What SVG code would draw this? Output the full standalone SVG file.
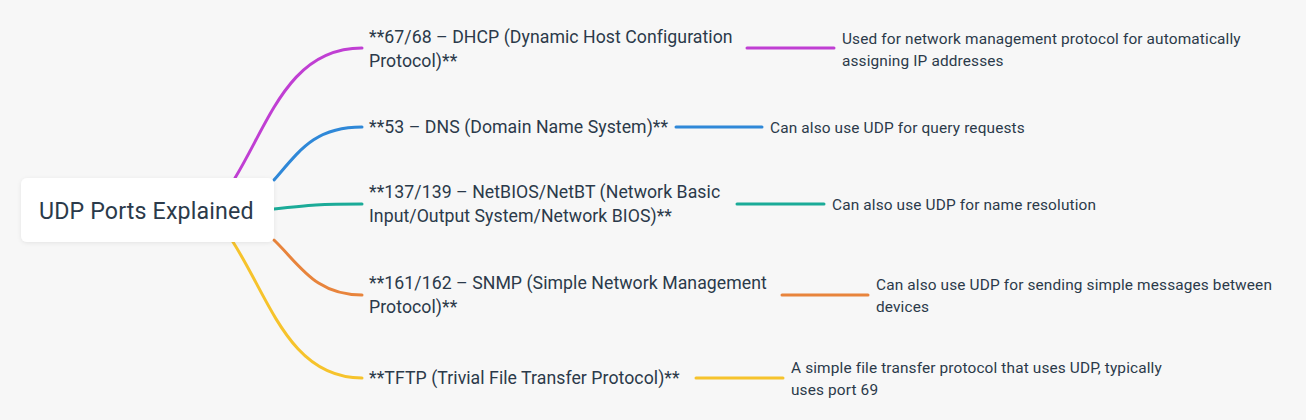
<svg xmlns="http://www.w3.org/2000/svg" width="1306" height="420" viewBox="0 0 1306 420">
<defs>
<filter id="sh" x="-10%" y="-20%" width="120%" height="150%">
<feDropShadow dx="0" dy="1" stdDeviation="2" flood-color="#000" flood-opacity="0.08"/>
</filter>
</defs>
<style>
text{font-family:Roboto,"Noto Sans",sans-serif;fill:#2b3a4a}
.l1{font-size:17.7px;letter-spacing:0.05px}
.l2{font-size:15.4px;letter-spacing:0.14px}
.root{font-size:23.2px;letter-spacing:0.15px}
.c{fill:none;stroke-width:3;stroke-linecap:round}
</style>
<rect width="1306" height="420" fill="#f7f7f7"/>
<g id="connectors">
<path class="c" stroke="#c03fd3" d="M235,178 C270,120 290,48 362,48"/>
<path class="c" stroke="#2f88d8" d="M274,180 C300,150 315,127 362,127"/>
<path class="c" stroke="#1bab98" d="M274,209 C310,205 320,204 362,204"/>
<path class="c" stroke="#e8843c" d="M274,240 C300,265 315,295 362,295"/>
<path class="c" stroke="#f6c32c" d="M233,242 C270,300 290,378 362,378"/>
<path class="c" stroke="#c03fd3" d="M747,48 H834"/>
<path class="c" stroke="#2f88d8" d="M676,127 H762"/>
<path class="c" stroke="#1bab98" d="M737,204 H824"/>
<path class="c" stroke="#e8843c" d="M782,295 H868"/>
<path class="c" stroke="#f6c32c" d="M696,378 H783"/>
</g>
<g id="root">
<rect x="21" y="178" width="253" height="64" rx="6" fill="#fff" filter="url(#sh)"/>
<text class="root" x="39" y="219">UDP Ports Explained</text>
</g>
<g id="dhcp"><text class="l1" x="369" y="43">**67/68 – DHCP (Dynamic Host Configuration</text><text class="l1" x="369" y="67">Protocol)**</text></g>
<g id="dns"><text class="l1" x="369" y="133">**53 – DNS (Domain Name System)**</text></g>
<g id="netbios"><text class="l1" x="369" y="198">**137/139 – NetBIOS/NetBT (Network Basic</text><text class="l1" x="369" y="222">Input/Output System/Network BIOS)**</text></g>
<g id="snmp"><text class="l1" x="369" y="289">**161/162 – SNMP (Simple Network Management</text><text class="l1" x="369" y="313">Protocol)**</text></g>
<g id="tftp"><text class="l1" x="369" y="384">**TFTP (Trivial File Transfer Protocol)**</text></g>
<g id="dhcp-desc"><text class="l2" x="842" y="44">Used for network management protocol for automatically</text><text class="l2" x="842" y="66">assigning IP addresses</text></g>
<g id="dns-desc"><text class="l2" x="770" y="133">Can also use UDP for query requests</text></g>
<g id="netbios-desc"><text class="l2" x="832" y="210">Can also use UDP for name resolution</text></g>
<g id="snmp-desc"><text class="l2" x="876" y="290">Can also use UDP for sending simple messages between</text><text class="l2" x="876" y="312">devices</text></g>
<g id="tftp-desc"><text class="l2" x="791" y="373">A simple file transfer protocol that uses UDP, typically</text><text class="l2" x="791" y="395">uses port 69</text></g>
</svg>
